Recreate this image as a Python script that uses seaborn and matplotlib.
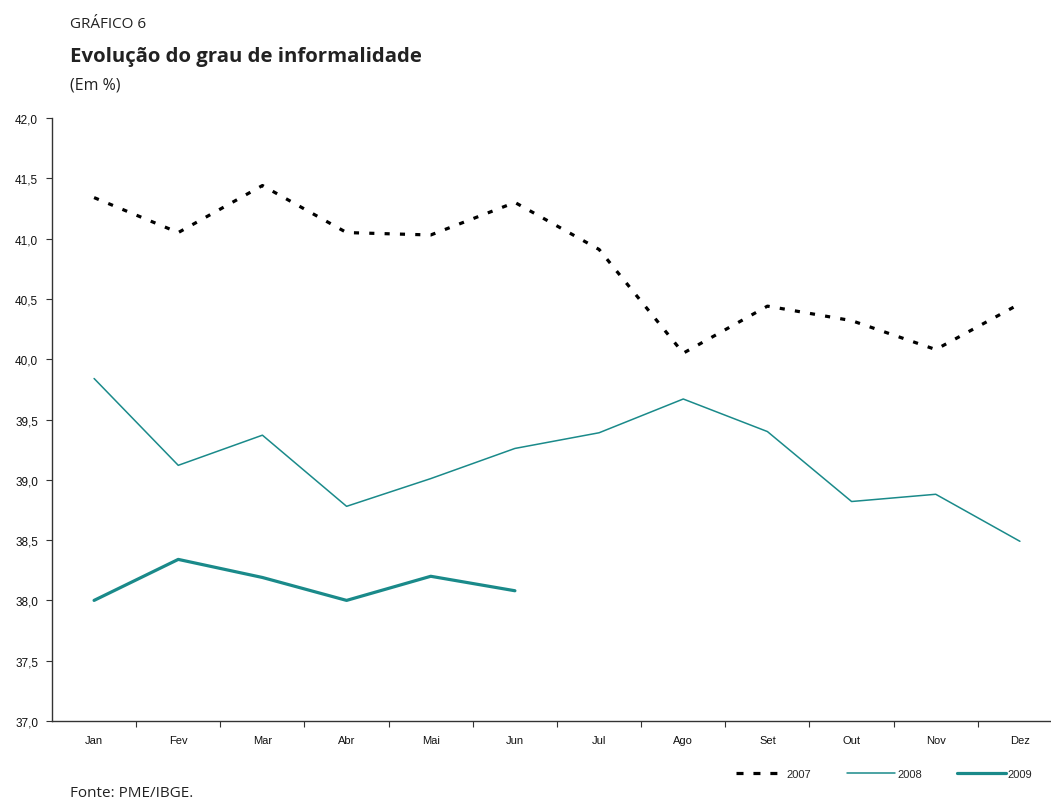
import matplotlib
matplotlib.use("Agg")
import matplotlib.pyplot as plt
from matplotlib.lines import Line2D
from matplotlib.ticker import FixedLocator, FuncFormatter
import seaborn as sns
import pandas as pd

# Monthly informality rate (%) by year
months = ["Jan", "Fev", "Mar", "Abr", "Mai", "Jun",
          "Jul", "Ago", "Set", "Out", "Nov", "Dez"]
y2007 = [41.34, 41.05, 41.44, 41.05, 41.03, 41.30,
         40.91, 40.05, 40.44, 40.32, 40.08, 40.46]
y2008 = [39.84, 39.12, 39.37, 38.78, 39.01, 39.26,
         39.39, 39.67, 39.40, 38.82, 38.88, 38.49]
y2009 = [38.00, 38.34, 38.19, 38.00, 38.20, 38.08]
years = ["2007", "2008", "2009"]

teal = "#1a8a8a"

sns.set_theme(style="white")
plt.rcParams["font.family"] = ["Liberation Sans", "DejaVu Sans"]

fig = plt.figure(figsize=(10.51, 8.03), dpi=100)
ax = fig.add_axes([52 / 1051, 1 - 722 / 803, 1010 / 1051, 603 / 803])

df = pd.concat([
    pd.DataFrame({"pos": range(len(y2007)), "valor": y2007, "ano": years[0]}),
    pd.DataFrame({"pos": range(len(y2008)), "valor": y2008, "ano": years[1]}),
    pd.DataFrame({"pos": range(len(y2009)), "valor": y2009, "ano": years[2]}),
])

styles = {
    "2007": dict(color="black", lw=2.3, dashes=(1.6, 3.2)),
    "2008": dict(color=teal, lw=1.1),
    "2009": dict(color=teal, lw=2.3),
}
for ano in years:
    st = styles[ano]
    sub = df[df["ano"] == ano]
    kw = dict(color=st["color"], linewidth=st["lw"])
    line_ax = sns.lineplot(data=sub, x="pos", y="valor", ax=ax, label=ano,
                           sort=False, legend=False, **kw)
    if "dashes" in st:
        line_ax.lines[-1].set_dashes(st["dashes"])
        line_ax.lines[-1].set_dash_capstyle("butt")

ax.set_xlim(-0.5, 11.5)
ax.set_ylim(37.0, 42.0)
ax.set_xlabel("")
ax.set_ylabel("")

ax.set_xticks(range(len(months)))
ax.set_xticklabels(months)
ax.xaxis.set_minor_locator(FixedLocator([i + 0.5 for i in range(len(months))]))
ax.tick_params(axis="x", which="major", length=0, pad=10, labelsize=8, colors="#111111")
ax.tick_params(axis="x", which="minor", length=4, width=0.8, color="#333333",
               direction="out", bottom=True)

yt = [37.0 + 0.5 * i for i in range(11)]
ax.set_yticks(yt)
ax.yaxis.set_major_formatter(FuncFormatter(lambda v, p: f"{v:.1f}".replace(".", ",")))
ax.tick_params(axis="y", which="major", length=4, width=0.8, color="#333333",
               direction="out", left=True, labelsize=8.5, pad=6, colors="#111111")

sns.despine(ax=ax)
for side in ("left", "bottom"):
    ax.spines[side].set_color("#333333")
    ax.spines[side].set_linewidth(1.0)
ax.grid(False)

# Legend: the dashed key uses coarser dashes so they read clearly at small size
leg_handles = [
    Line2D([], [], color="black", lw=2.3, dashes=(2.2, 3.1), dash_capstyle="butt"),
    Line2D([], [], color=teal, lw=1.1),
    Line2D([], [], color=teal, lw=2.3),
]
leg = fig.legend(leg_handles, years, loc="center right",
                 bbox_to_anchor=(1037 / 1051, 1 - 775 / 803),
                 ncol=3, frameon=False, fontsize=8, handlelength=4.4, handletextpad=0.15,
                 columnspacing=3.2, borderaxespad=0)

# Titles and source
fig.text(70 / 1051, 1 - 24 / 803, "GRÁFICO 6", fontsize=11, va="center",
         family=["Open Sans", "DejaVu Sans"], color="#222222")
fig.text(70 / 1051, 1 - 57 / 803, "Evolução do grau de informalidade", fontsize=14.7,
         va="center", weight="bold", family=["Open Sans", "DejaVu Sans"], color="#222222")
fig.text(70 / 1051, 1 - 86 / 803, "(Em %)", fontsize=11.5, va="center",
         family=["Open Sans", "DejaVu Sans"], color="#222222")
fig.text(70 / 1051, 1 - 801 / 803, "Fonte: PME/IBGE.", fontsize=11, va="bottom",
         family=["Open Sans", "DejaVu Sans"], color="#222222")

fig.savefig("out.png", dpi=100)
